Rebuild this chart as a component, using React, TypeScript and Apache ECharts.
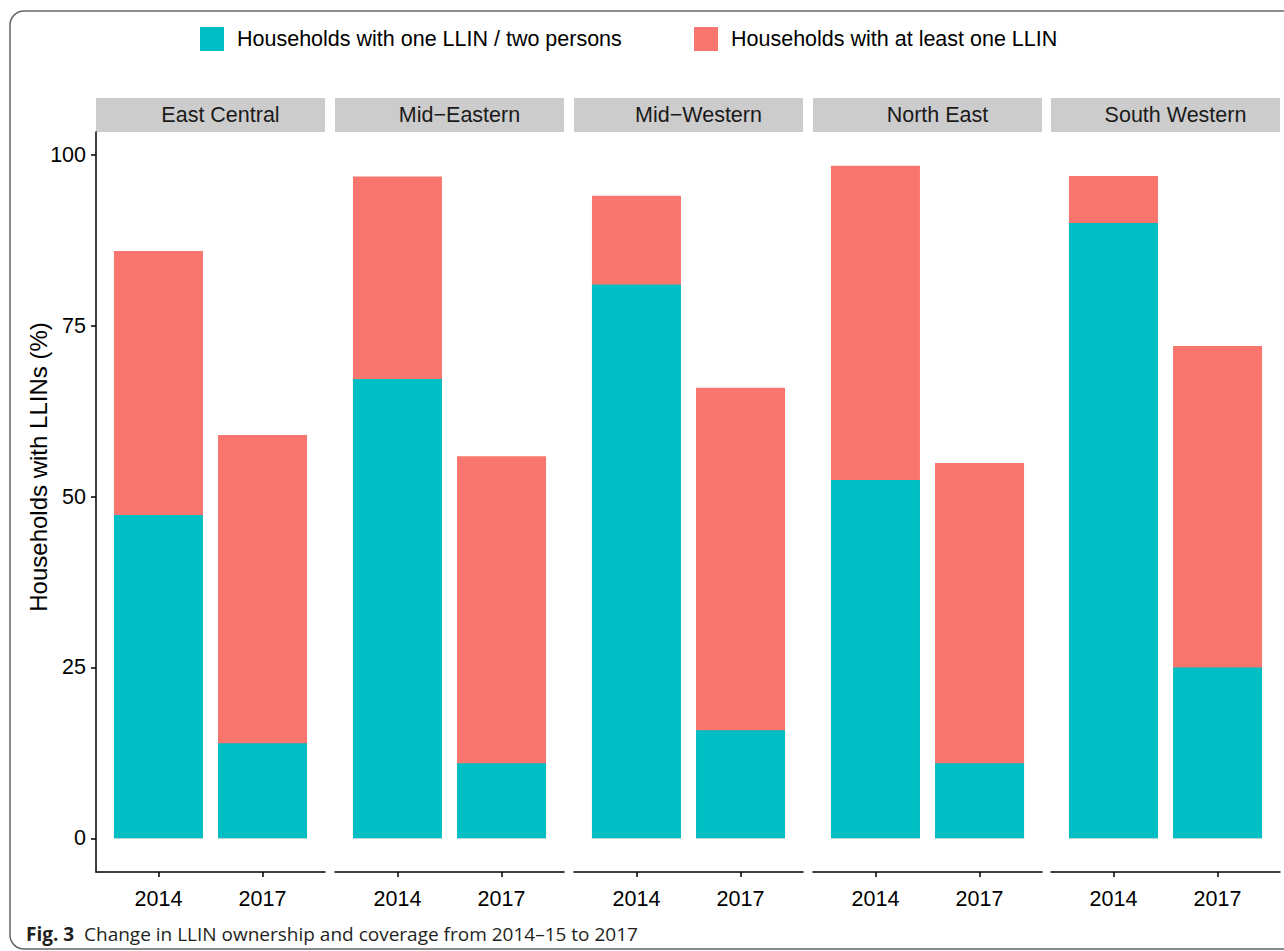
import React, { useEffect, useRef } from 'react';
import * as echarts from 'echarts';

const regions = ['East Central', 'Mid\u2212Eastern', 'Mid\u2212Western', 'North East', 'South Western'];
const years = ['2014', '2017'];
// Households with at least one LLIN (%)
const atLeastOne2014 = [85.9, 96.8, 94.0, 98.4, 96.9];
const atLeastOne2017 = [59.0, 55.9, 65.9, 54.9, 72.0];
// Households with one LLIN per two persons (%)
const onePerTwo2014 = [47.3, 67.2, 81.0, 52.4, 90.0];
const onePerTwo2017 = [13.9, 11.0, 15.8, 11.0, 25.0];
const yTicks = [0, 25, 50, 75, 100];

const TEAL = '#00BFC4';
const RED = '#F8766D';
const NAME_TEAL = 'Households with one LLIN / two persons';
const NAME_RED = 'Households with at least one LLIN';
const FONT = "'Liberation Sans', Arial, Helvetica, sans-serif";
const FS = 21.5;

export default function App() {
  const ref = useRef<HTMLDivElement>(null);
  useEffect(() => {
    document.body.style.margin = '0';
    const chart = echarts.init(ref.current!, null, { renderer: 'svg' });
    const panelLefts = [96, 335, 574, 813, 1051];
    const panelWidth = 229;
    const top = 132;
    const height = 740;
    const axisLineStyle = { color: '#000', width: 1.5 };

    const grids = panelLefts.map((l) => ({ left: l, top, width: panelWidth, height }));
    const xAxes = regions.map((_, i) => ({
      type: 'value',
      gridIndex: i,
      min: -0.6,
      max: 1.6,
      axisLine: { show: true, onZero: false, lineStyle: axisLineStyle },
      axisTick: { show: true, length: 5, customValues: [0, 1], lineStyle: axisLineStyle },
      axisLabel: {
        customValues: [0, 1],
        formatter: (v: number) => years[Math.round(v)] ?? '',
        fontSize: FS,
        color: '#000',
        margin: 16,
        fontFamily: FONT,
      },
      splitLine: { show: false },
    }));
    const yAxes = regions.map((_, i) => ({
      type: 'value',
      gridIndex: i,
      min: -4.92,
      max: 103.32,
      show: i === 0,
      axisLine: { show: i === 0, onZero: false, lineStyle: axisLineStyle },
      axisTick: { show: i === 0, length: 5, customValues: yTicks, lineStyle: axisLineStyle },
      axisLabel: {
        show: i === 0,
        customValues: yTicks,
        fontSize: FS,
        color: '#000',
        margin: 10,
        fontFamily: FONT,
      },
      splitLine: { show: false },
    }));

    const series: any[] = [];
    regions.forEach((_, i) => {
      series.push({
        type: 'bar',
        name: NAME_RED,
        xAxisIndex: i,
        yAxisIndex: i,
        barWidth: 89,
        barGap: '-100%',
        itemStyle: { color: RED },
        data: [
          [0, atLeastOne2014[i]],
          [1, atLeastOne2017[i]],
        ],
      });
      series.push({
        type: 'bar',
        name: NAME_TEAL,
        xAxisIndex: i,
        yAxisIndex: i,
        barWidth: 89,
        barGap: '-100%',
        itemStyle: { color: TEAL },
        data: [
          [0, onePerTwo2014[i]],
          [1, onePerTwo2017[i]],
        ],
      });
    });

    const legendBase = {
      top: 27,
      padding: 0,
      itemWidth: 24,
      itemHeight: 24,
      icon: 'rect',
      selectedMode: false,
      textStyle: { fontSize: FS, fontFamily: FONT, color: '#000', padding: [0, 0, 0, 8] },
    };

    const CAP_FONT = "'Open Sans', 'Noto Sans', sans-serif";
    const graphics: any[] = [
      {
        type: 'rect',
        shape: { x: 10, y: 11, width: 1300, height: 938, r: 14 },
        style: { fill: 'none', stroke: '#666', lineWidth: 1.5 },
        silent: true,
      },
      {
        type: 'text',
        x: 38,
        y: 467,
        rotation: Math.PI / 2,
        style: {
          text: 'Households with LLINs (%)',
          fontSize: 24,
          fontFamily: FONT,
          fill: '#000',
          textAlign: 'center',
          textVerticalAlign: 'middle',
        },
      },
      {
        type: 'text',
        x: 26,
        y: 934,
        style: {
          text: '{b|Fig. 3}  Change in LLIN ownership and coverage from 2014\u201315 to 2017',
          fontSize: 19,
          fontFamily: CAP_FONT,
          fill: '#231f20',
          textVerticalAlign: 'middle',
          rich: {
            b: { fontWeight: 'bold', fontSize: 19, fontFamily: CAP_FONT, fill: '#231f20' },
          },
        },
      },
    ];
    regions.forEach((r, i) => {
      graphics.push({
        type: 'rect',
        shape: { x: panelLefts[i], y: 98, width: panelWidth, height: 34 },
        style: { fill: '#cccccc' },
        silent: true,
      });
      graphics.push({
        type: 'text',
        x: panelLefts[i] + panelWidth / 2 + 10,
        y: 115,
        style: {
          text: r,
          fontSize: FS,
          fontFamily: FONT,
          fill: '#1a1a1a',
          textAlign: 'center',
          textVerticalAlign: 'middle',
        },
      });
    });

    chart.setOption({
      animation: false,
      backgroundColor: '#fff',
      grid: grids,
      xAxis: xAxes,
      yAxis: yAxes,
      legend: [
        { ...legendBase, left: 200, data: [NAME_TEAL] },
        { ...legendBase, left: 694, data: [NAME_RED] },
      ],
      graphic: graphics,
      series,
    });
    return () => chart.dispose();
  }, []);
  return <div ref={ref} style={{ width: 1284, height: 951 }} />;
}
